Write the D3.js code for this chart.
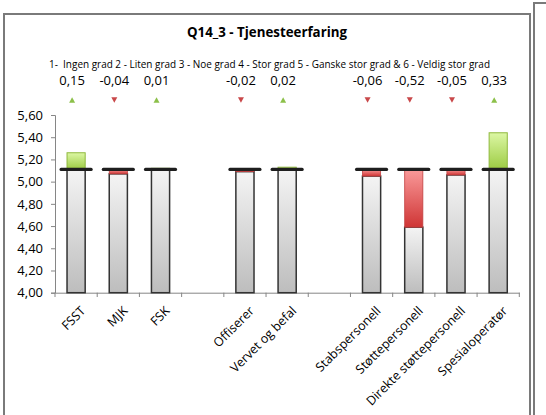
<!DOCTYPE html>
<html>
<head>
<meta charset="utf-8">
<script src="https://cdn.jsdelivr.net/npm/d3@7"></script>
<style>
  html, body { margin: 0; padding: 0; background: #fff; }
  svg { display: block; font-family: "Open Sans", "Liberation Sans", sans-serif; }
</style>
</head>
<body>
<svg id="chart" width="546" height="415"></svg>
<script>
// ---- data ----
const title = "Q14_3 - Tjenesteerfaring";
const scaleText = "1-  Ingen grad 2 - Liten grad 3 - Noe grad 4 - Stor grad 5 - Ganske stor grad & 6 - Veldig stor grad";
const categories = ["FSST", "MJK", "FSK", "", "Offiserer", "Vervet og befal", "", "Stabspersonell", "Støttepersonell", "Direkte støttepersonell", "Spesialoperatør"];
const deltas = [0.15, -0.04, 0.01, null, -0.02, 0.02, null, -0.06, -0.52, -0.05, 0.33];
const reference = 5.11;
const yTicks = [4.0, 4.2, 4.4, 4.6, 4.8, 5.0, 5.2, 5.4, 5.6];
const yDomain = [4.0, 5.6];

// ---- drawing ----
const svg = d3.select("#chart");
const fmt = v => d3.format(".2f")(v).replace(".", ",").replace("\u2212", "-");

const defs = svg.append("defs");
function grad(id, top, bottom) {
  const g = defs.append("linearGradient").attr("id", id)
    .attr("x1", 0).attr("y1", 0).attr("x2", 0).attr("y2", 1);
  g.append("stop").attr("offset", "0%").attr("stop-color", top);
  g.append("stop").attr("offset", "100%").attr("stop-color", bottom);
}
grad("gGray", "#f4f4f4", "#bdbdbd");
grad("gGreen", "#dcf7a4", "#9ccb42");
grad("gRed", "#fa9a9a", "#cf3535");

// frames
svg.append("rect").attr("x", 4).attr("y", 14).attr("width", 526).attr("height", 420)
  .attr("fill", "none").attr("stroke", "#7a7a7a").attr("stroke-width", 2);
svg.append("rect").attr("x", 534).attr("y", 3).attr("width", 40).attr("height", 430)
  .attr("fill", "none").attr("stroke", "#7a7a7a").attr("stroke-width", 2);

const x = d3.scaleBand().domain(d3.range(categories.length)).range([55, 519.3]).paddingInner(0).paddingOuter(0);
const y = d3.scaleLinear().domain(yDomain).range([292.7, 115]);
const bw = x.bandwidth() * 0.43;
const cx = i => x(i) + x.bandwidth() / 2;

// title & legend text
svg.append("text").attr("x", 267).attr("y", 37).attr("text-anchor", "middle")
  .attr("font-size", 14.5).attr("font-weight", "bold").attr("fill", "#000")
  .attr("textLength", 160).attr("lengthAdjust", "spacingAndGlyphs").text(title);
svg.append("text").attr("x", 269.5).attr("y", 68).attr("text-anchor", "middle")
  .attr("font-size", 10).attr("fill", "#000").style("white-space", "pre")
  .attr("textLength", 441).attr("lengthAdjust", "spacingAndGlyphs").text(scaleText);

// y axis
const yAxis = d3.axisLeft(y).tickValues(yTicks).tickFormat(fmt).tickSize(4).tickPadding(8);
const gy = svg.append("g").attr("transform", "translate(55,0)").call(yAxis);
gy.select(".domain").attr("stroke", "#868686");
gy.selectAll(".tick line").attr("stroke", "#868686");
gy.selectAll(".tick text").attr("font-size", 13).attr("fill", "#000")
  .attr("font-family", "'Open Sans', sans-serif");

// x axis (labels at band centers, ticks at boundaries)
const xAxis = d3.axisBottom(x).tickFormat(i => categories[i]).tickSize(0).tickPadding(0);
const gx = svg.append("g").attr("transform", "translate(0,292.7)").call(xAxis);
gx.select(".domain").attr("stroke", "#868686");
gx.selectAll(".tick text")
  .attr("font-size", 12.5).attr("fill", "#000")
  .attr("font-family", "'Open Sans', sans-serif")
  .attr("text-anchor", "end")
  .attr("dy", 0)
  .attr("transform", "translate(10,19) rotate(-45)");
const bounds = d3.range(categories.length + 1).map(i => i < categories.length ? x(i) : x.range()[1]);
svg.append("g").selectAll("line").data(bounds).join("line")
  .attr("x1", d => d).attr("x2", d => d).attr("y1", 292.7).attr("y2", 297)
  .attr("stroke", "#868686");

// bars
const data = deltas.map((d, i) => ({ i, d })).filter(o => o.d !== null);
const gb = svg.append("g");
data.forEach(o => {
  const low = Math.min(reference, reference + o.d);
  const high = Math.max(reference, reference + o.d);
  // gray base
  gb.append("rect").attr("x", cx(o.i) - bw / 2).attr("y", y(low)).attr("width", bw)
    .attr("height", y(yDomain[0]) - y(low))
    .attr("fill", "url(#gGray)").attr("stroke", "#333").attr("stroke-width", 1.5);
  // delta
  if (o.d > 0) {
    gb.append("rect").attr("x", cx(o.i) - bw / 2).attr("y", y(high)).attr("width", bw)
      .attr("height", y(reference) - y(high))
      .attr("fill", "url(#gGreen)").attr("stroke", "#8fb83c").attr("stroke-width", 1);
  } else if (o.d < 0) {
    gb.append("rect").attr("x", cx(o.i) - bw / 2).attr("y", y(reference)).attr("width", bw)
      .attr("height", y(low) - y(reference))
      .attr("fill", "url(#gRed)").attr("stroke", "#c24040").attr("stroke-width", 0.8);
  }
  // reference marker
  gb.append("line").attr("x1", cx(o.i) - 15).attr("x2", cx(o.i) + 15)
    .attr("y1", y(reference)).attr("y2", y(reference))
    .attr("stroke", "#1e1e1e").attr("stroke-width", 3.2).attr("stroke-linecap", "round");
  // value labels
  svg.append("text").attr("x", cx(o.i) - 4).attr("y", 85).attr("text-anchor", "middle")
    .attr("font-size", 13).attr("fill", "#000").text(fmt(o.d));
  // triangle indicator
  const tx = cx(o.i) - 4, ty = 100;
  const pts = o.d >= 0
    ? [[tx - 3, ty + 2.8], [tx + 3, ty + 2.8], [tx, ty - 2.8]]
    : [[tx - 3, ty - 2.8], [tx + 3, ty - 2.8], [tx, ty + 2.8]];
  svg.append("polygon").attr("points", pts.map(p => p.join(",")).join(" "))
    .attr("fill", o.d >= 0 ? "#8cc04a" : "#c9484a");
});
</script>
</body>
</html>
